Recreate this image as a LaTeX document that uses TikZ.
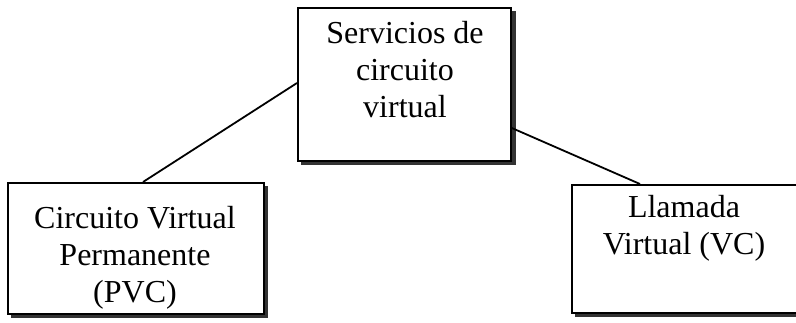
\documentclass[tikz,border=0pt]{standalone}
\usepackage{fontspec}
\setmainfont{Liberation Serif}
\begin{document}
\begin{tikzpicture}[x=1pt,y=1pt,
  box/.style={draw=black, line width=1.8pt, fill=white, rectangle, inner sep=0pt, anchor=north west},
  shadow/.style={fill=black!80},
  lbl/.style={align=center, font=\fontsize{32}{37}\selectfont, inner sep=0pt},
  conn/.style={line width=1.8pt}]
\useasboundingbox (0,0) rectangle (796,322);
% shadows
\fill[shadow] (301,-165+322) rectangle (516,-11+322);
\fill[shadow] (11,-318+322) rectangle (268,-186+322);
\fill[shadow] (575,-317+322) rectangle (802,-188+322);
% boxes
\node[box, minimum width=213pt, minimum height=153pt] (top) at (297,-7+322) {};
\node[box, minimum width=256pt, minimum height=131pt] (left) at (7,-182+322) {};
\node[box, minimum width=228pt, minimum height=128pt] (right) at (571,-184+322) {};
% texts
\node[lbl] (ttop) at (405,-70+322) {Servicios de\\circuito\\virtual};
\node[lbl] (tleft) at (135,-258+322) {Circuito Virtual\\Permanente\\(PVC)};
\node[lbl] (tright) at (684,-228.5+322) {Llamada\\Virtual (VC)};
% connectors
\coordinate (tl) at (top.west |- 0,-83+322);
\coordinate (tr) at (top.east |- 0,-128+322);
\coordinate (lt) at (143,-182+322);
\coordinate (rt) at (640,-184+322);
\draw[conn] (tl) -- (lt);
\draw[conn] (tr) -- (rt);
\end{tikzpicture}
\end{document}
